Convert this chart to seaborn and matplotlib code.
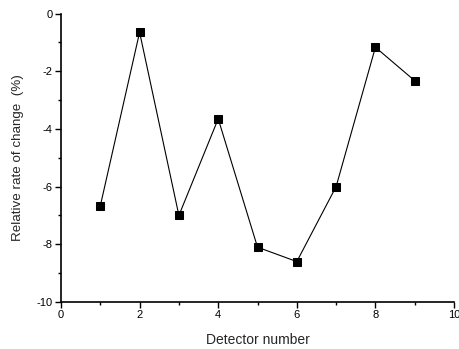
import matplotlib
matplotlib.use("Agg")
import matplotlib.pyplot as plt
import seaborn as sns
import pandas as pd
from matplotlib.ticker import MultipleLocator

detector = [1, 2, 3, 4, 5, 6, 7, 8, 9]
rate_change = [-6.67, -0.65, -7.0, -3.65, -8.1, -8.6, -6.0, -1.17, -2.33]

df = pd.DataFrame({"detector": detector, "rate": rate_change})

sns.set_style("ticks")
plt.rcParams["font.family"] = ["Liberation Sans", "DejaVu Sans"]
plt.rcParams["axes.unicode_minus"] = False

fig = plt.figure(figsize=(4.6, 3.49), dpi=100)
ax = fig.add_axes([0.1326, 0.1347, 0.8544, 0.8266])

sns.lineplot(data=df, x="detector", y="rate", ax=ax, color="black",
             linewidth=0.8, marker="s", markersize=6, markeredgecolor="black",
             markerfacecolor="black")

ax.set_xlim(0, 10)
ax.set_ylim(-10, 0)
ax.xaxis.set_major_locator(MultipleLocator(2))
ax.xaxis.set_minor_locator(MultipleLocator(1))
ax.yaxis.set_major_locator(MultipleLocator(2))
ax.yaxis.set_minor_locator(MultipleLocator(1))
ax.tick_params(which="major", direction="out", length=4, width=1, labelsize=8,
               colors="black", pad=2)
ax.tick_params(which="minor", direction="out", length=2.5, width=1, colors="black")

sns.despine(ax=ax)
for s in ("left", "bottom"):
    ax.spines[s].set_linewidth(1.2)
    ax.spines[s].set_color("black")

ax.set_xlabel("Detector number", fontsize=10, labelpad=9)
ax.set_ylabel("Relative rate of change  (%)", fontsize=9.6, labelpad=9)

fig.savefig("out.png", dpi=100)
